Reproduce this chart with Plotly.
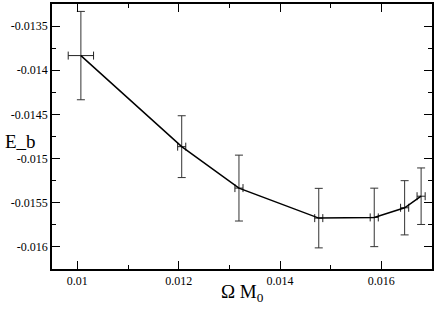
import plotly.graph_objects as go

omega_m0 = [0.01007, 0.01206, 0.01319, 0.014765, 0.01586, 0.01646, 0.016785]
e_b = [-0.013834, -0.014865, -0.015334, -0.015674, -0.015666, -0.015557, -0.015426]
e_b_err = [0.0005, 0.00035, 0.000373, 0.000337, 0.000331, 0.000307, 0.00032]
omega_err = [0.00025, 0.00008, 0.00008, 0.00008, 0.00008, 0.00008, 0.00008]

x_range = [0.0095, 0.017]
y_range = [-0.01625, -0.01325]
x_tickvals = [0.010, 0.012, 0.014, 0.016]
x_ticktext = ["0.01", "0.012", "0.014", "0.016"]
y_tickvals = [-0.0135, -0.014, -0.0145, -0.015, -0.0155, -0.016]
y_ticktext = ["-0.0135", "-0.014", "-0.0145", "-0.015", "-0.0155", "-0.016"]

serif = "Liberation Serif"

fig = go.Figure()
fig.add_trace(go.Scatter(
    x=omega_m0, y=e_b, mode="lines",
    line=dict(color="black", width=1.5),
    error_y=dict(type="data", array=e_b_err, visible=True, color="#333333", thickness=1, width=4),
    error_x=dict(type="data", array=omega_err, visible=True, color="#222222", thickness=1, width=4),
    showlegend=False, hoverinfo="skip",
))

axis_common = dict(
    showgrid=False, zeroline=False, showline=True, linecolor="black", linewidth=1.5,
    mirror="ticks", ticks="inside", ticklen=8, tickwidth=1, tickcolor="black",
    tickfont=dict(family=serif, size=12, color="black"),
)

fig.update_layout(
    width=436, height=309,
    margin=dict(l=52, r=2, t=2, b=40),
    plot_bgcolor="white", paper_bgcolor="white",
    font=dict(family=serif, color="black"),
    xaxis=dict(range=x_range, tickvals=x_tickvals, ticktext=x_ticktext,
               minor=dict(dtick=0.001, tick0=0.0, ticks="inside", ticklen=4, tickcolor="black"),
               **axis_common),
    yaxis=dict(range=y_range, tickvals=y_tickvals, ticktext=y_ticktext,
               minor=dict(dtick=0.00025, tick0=0.0, ticks="inside", ticklen=4, tickcolor="black"),
               **axis_common),
    annotations=[
        dict(text="Ω M<sub>0</sub>", xref="paper", yref="paper", x=0.5, y=0,
             xanchor="center", yanchor="top", yshift=-10, showarrow=False,
             font=dict(family=serif, size=19, color="black")),
        dict(text="E_b", xref="paper", yref="paper", x=0, y=0.48,
             xanchor="right", yanchor="middle", xshift=-14, showarrow=False,
             font=dict(family=serif, size=19, color="black")),
    ],
)

fig.write_html("out.html", config={"displayModeBar": False},
               post_script="document.body.style.margin='0';document.body.style.overflow='hidden';")
